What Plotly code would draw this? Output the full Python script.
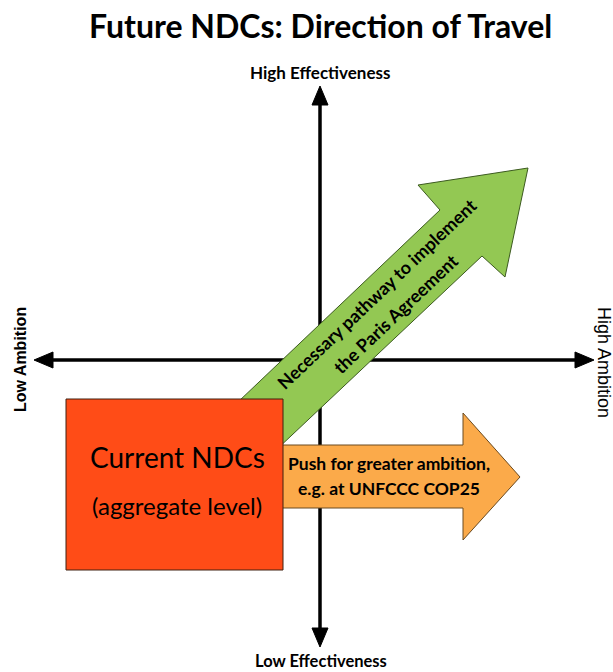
import plotly.graph_objects as go

# ---------------- data (diagram units = pixels, y grows downward) ----------------
title_text = "Future NDCs: Direction of Travel"
top_label = "High Effectiveness"
bottom_label = "Low Effectiveness"
left_label = "Low Ambition"
right_label = "High Ambition"
box_lines = ["Current NDCs", "(aggregate level)"]
green_lines = ["Necessary pathway to implement", "the Paris Agreement"]
orange_lines = ["Push for greater ambition,", "e.g. at UNFCCC COP25"]

# axis lines
v_axis_x = [320, 320]
v_axis_y = [100, 633]
h_axis_x = [48, 580]
h_axis_y = [360, 360]
# axis arrow heads
up_head_x = [312, 328, 320]
up_head_y = [105, 105, 86]
down_head_x = [312, 328, 320]
down_head_y = [628, 628, 647]
left_head_x = [53, 53, 34]
left_head_y = [352, 368, 360]
right_head_x = [575, 575, 594]
right_head_y = [352, 368, 360]

# shapes
green_x = [198, 440, 418, 528, 505, 482, 240]
green_y = [440, 210, 185, 168, 277, 256, 484]
orange_x = [240, 463, 463, 520, 463, 463, 240]
orange_y = [445, 445, 413, 477, 540, 508, 508]
box_x = [66, 283, 283, 66]
box_y = [399, 399, 570, 570]

# text anchor points
title_xy = (320, 25)
top_label_xy = (320, 72)
bottom_label_xy = (321, 661)
left_label_xy = (20, 360)
right_label_xy = (604, 362)
box_text_x = [177, 177]
box_text_y = [457, 505]
green_text_x = [376.6, 395.2]
green_text_y = [294.2, 313.8]
orange_text_x = [389, 389]
orange_text_y = [463, 488]

W, H = 613, 672

fig = go.Figure()

def poly(xs, ys, fill, line_color, lw):
    fig.add_trace(go.Scatter(x=xs + xs[:1], y=ys + ys[:1], mode="lines", fill="toself",
                             fillcolor=fill, line=dict(color=line_color, width=lw),
                             hoverinfo="skip", showlegend=False))

def line(xs, ys):
    fig.add_trace(go.Scatter(x=xs, y=ys, mode="lines", line=dict(color="black", width=3.5),
                             hoverinfo="skip", showlegend=False))

line(v_axis_x, v_axis_y)
line(h_axis_x, h_axis_y)
for hx, hy in [(up_head_x, up_head_y), (down_head_x, down_head_y),
               (left_head_x, left_head_y), (right_head_x, right_head_y)]:
    poly(hx, hy, "black", "black", 1)

poly(green_x, green_y, "#93C853", "#3c5a20", 1)
poly(orange_x, orange_y, "#FBAA4A", "#6a4a20", 1)
poly(box_x, box_y, "#FF4C17", "#402010", 1)

FONT = "Lato"
ann = []
def text(x, y, t, size, bold=False, angle=0, family=FONT, color="black"):
    ann.append(dict(x=x, y=y, xref="x", yref="y", text=("<b>%s</b>" % t) if bold else t,
                    showarrow=False, textangle=angle, xanchor="center", yanchor="middle",
                    borderpad=0, font=dict(family=family, size=size, color=color)))

text(*title_xy, title_text, 32, bold=True)
text(*top_label_xy, top_label, 17, bold=True)
text(*bottom_label_xy, bottom_label, 16.5, bold=True)
text(*left_label_xy, left_label, 16, bold=True, angle=-90, family="Liberation Sans")
text(*right_label_xy, right_label, 18, angle=90, family="Liberation Sans")
text(box_text_x[0], box_text_y[0], box_lines[0], 28)
text(box_text_x[1], box_text_y[1], box_lines[1], 24)
for i in range(2):
    text(green_text_x[i], green_text_y[i], green_lines[i], 18, bold=True, angle=-43.5)
    text(orange_text_x[i], orange_text_y[i], orange_lines[i], 17.5, bold=True)

fig.update_layout(
    width=W, height=H, margin=dict(l=0, r=0, t=0, b=0),
    paper_bgcolor="white", plot_bgcolor="white",
    xaxis=dict(range=[0, W], visible=False, fixedrange=True),
    yaxis=dict(range=[H, 0], visible=False, fixedrange=True),
    annotations=ann, showlegend=False,
)

fig.write_html("out.html", config={"displayModeBar": False},
               post_script="document.body.style.margin='0px';document.body.style.overflow='hidden';")
